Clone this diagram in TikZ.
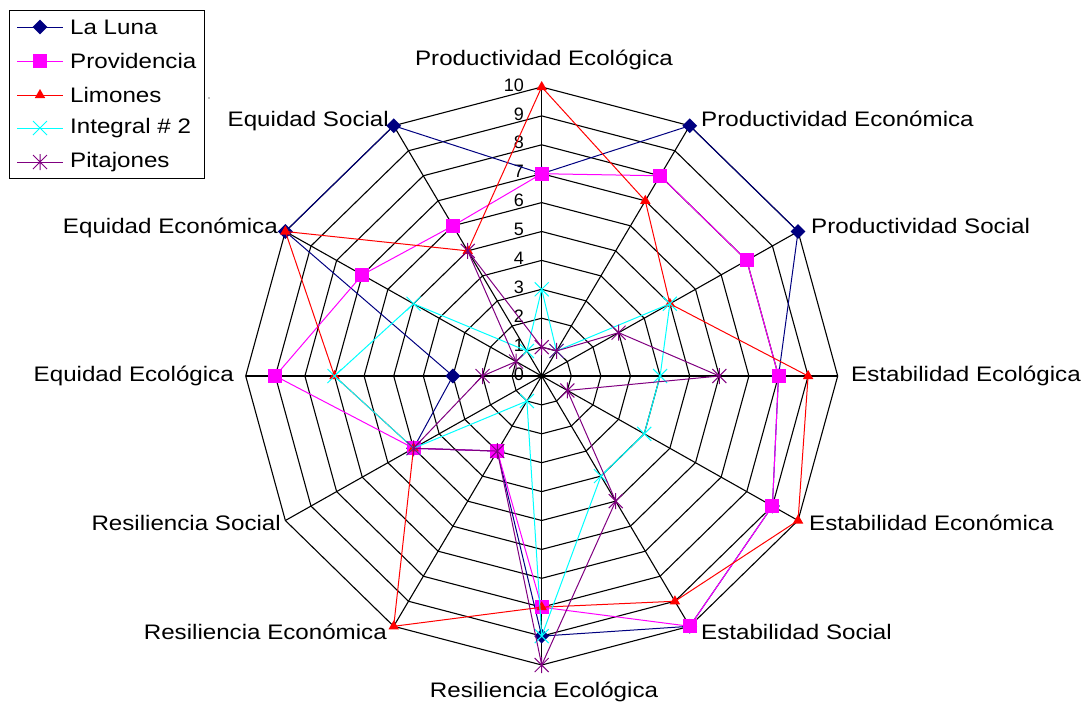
\documentclass[tikz,border=0pt]{standalone}
\usepackage{fontspec}
\setmainfont{Liberation Sans}
\newfontfamily\labfont[FakeStretch=1.15]{Liberation Sans}
\usetikzlibrary{shapes.geometric}
\definecolor{lnavy}{RGB}{0,0,128}
\definecolor{lmag}{RGB}{255,0,255}
\definecolor{lred}{RGB}{255,0,0}
\definecolor{lcyan}{RGB}{0,255,255}
\definecolor{lpurp}{RGB}{128,0,128}
\tikzset{
  gridln/.style={black, line width=1.1pt},
  serln/.style={line width=1pt, line join=round},
  lab/.style={font=\labfont\fontsize{21}{25}\selectfont, inner sep=0pt, text=black},
  ticklab/.style={font=\fontsize{18}{22}\selectfont, inner sep=0pt, text=black, anchor=east},
  mdiam/.style={diamond, fill=lnavy, minimum width=15pt, minimum height=15pt, inner sep=0pt},
  msq/.style={rectangle, fill=lmag, minimum size=14pt, inner sep=0pt},
  mtri/.style={regular polygon, regular polygon sides=3, fill=lred, minimum size=12pt, inner sep=0pt},
  xmk/.pic={\draw[lcyan, line width=1pt] (-7,-7)--(7,7) (-7,7)--(7,-7);},
  astmk/.pic={\draw[lpurp, line width=1pt] (-7,-7)--(7,7) (-7,7)--(7,-7) (0,-8)--(0,8);}
}
\begin{document}
\begin{tikzpicture}[x=1pt,y=-1pt]
\useasboundingbox (0,0) rectangle (1087,704);
\coordinate (O) at (541.7,376);
% grid rings
\foreach \r in {1,...,10}
  \draw[gridln] (541.7,{376-28.9*\r}) \foreach \k in {1,...,11}{ -- ({541.7+29.6*\r*sin(30*\k)},{376-28.9*\r*cos(30*\k)})} -- cycle;
% spokes
\foreach \k in {0,...,11}{
  \coordinate (S\k) at ({541.7+29.6*10*sin(30*\k)},{376-28.9*10*cos(30*\k)});
  \draw[gridln] (O) -- (S\k);
}
\fill[black] (O) circle (2.5);
% tick labels
\foreach \r in {0,...,10}
  \node[ticklab] (T\r) at (524,{374-28.9*\r}) {\r};
% axis labels
\node[lab, anchor=base] (A0) at (544,65) {Productividad Ecológica};
\node[lab, anchor=base west] (A1) at (701,126) {Productividad Económica};
\node[lab, anchor=base west] (A2) at (811,233) {Productividad Social};
\node[lab, anchor=base west] (A3) at (851,381) {Estabilidad Ecológica};
\node[lab, anchor=base west] (A4) at (809,530) {Estabilidad Económica};
\node[lab, anchor=base west] (A5) at (701,639) {Estabilidad Social};
\node[lab, anchor=base] (A6) at (544,697) {Resiliencia Ecológica};
\node[lab, anchor=base east] (A7) at (387,639) {Resiliencia Económica};
\node[lab, anchor=base east] (A8) at (281,530) {Resiliencia Social};
\node[lab, anchor=base east] (A9) at (234,381) {Equidad Ecológica};
\node[lab, anchor=base east] (A10) at (278,233) {Equidad Económica};
\node[lab, anchor=base east] (A11) at (389,126) {Equidad Social};
% data coordinates
\foreach \v [count=\k from 0] in {7,10,10,8,9,10,9,3,5,3,10,10}
  \coordinate (LL\k) at ({541.7+29.6*\v*sin(30*\k)},{376-28.9*\v*cos(30*\k)});
\foreach \v [count=\k from 0] in {7,8,8,8,9,10,8,3,5,9,7,6}
  \coordinate (PR\k) at ({541.7+29.6*\v*sin(30*\k)},{376-28.9*\v*cos(30*\k)});
\foreach \v [count=\k from 0] in {10,7,5,9,10,9,8,10,5,7,10,5}
  \coordinate (LM\k) at ({541.7+29.6*\v*sin(30*\k)},{376-28.9*\v*cos(30*\k)});
\foreach \v [count=\k from 0] in {3,1,5,4,4,4,9,1,5,7,5,1}
  \coordinate (IN\k) at ({541.7+29.6*\v*sin(30*\k)},{376-28.9*\v*cos(30*\k)});
\foreach \v [count=\k from 0] in {1,1,3,6,1,5,10,3,5,2,1,5}
  \coordinate (PI\k) at ({541.7+29.6*\v*sin(30*\k)},{376-28.9*\v*cos(30*\k)});
% La Luna
\draw[serln, lnavy] (LL0) \foreach \k in {1,...,11}{ -- (LL\k)} -- cycle;
\foreach \k in {0,...,11} \node[mdiam] (LLm\k) at (LL\k) {};
% Providencia
\draw[serln, lmag] (PR0) \foreach \k in {1,...,11}{ -- (PR\k)} -- cycle;
\foreach \k in {0,...,11} \node[msq] (PRm\k) at (PR\k) {};
% Limones
\draw[serln, lred] (LM0) \foreach \k in {1,...,11}{ -- (LM\k)} -- cycle;
\foreach \k in {0,...,11} \node[mtri] (LMm\k) at (LM\k) {};
% Integral # 2
\draw[serln, lcyan] (IN0) \foreach \k in {1,...,11}{ -- (IN\k)} -- cycle;
\foreach \k in {0,...,11} \pic at (IN\k) {xmk};
% Pitajones
\draw[serln, lpurp] (PI0) \foreach \k in {1,...,11}{ -- (PI\k)} -- cycle;
\foreach \k in {0,...,11} \pic at (PI\k) {astmk};
% legend
\draw[black, line width=1pt] (9.5,10) rectangle (204,178);
\coordinate (G1a) at (17,27); \coordinate (G1b) at (63,27); \coordinate (G1m) at (40,27);
\coordinate (G2a) at (17,61); \coordinate (G2b) at (63,61); \coordinate (G2m) at (40,61);
\coordinate (G3a) at (17,95); \coordinate (G3b) at (63,95); \coordinate (G3m) at (40,95);
\coordinate (G4a) at (17,128); \coordinate (G4b) at (63,128); \coordinate (G4m) at (40,128);
\coordinate (G5a) at (17,162); \coordinate (G5b) at (63,162); \coordinate (G5m) at (40,162);
\draw[serln, lnavy] (G1a) -- (G1b); \node[mdiam] (K1) at (G1m) {};
\draw[serln, lmag] (G2a) -- (G2b); \node[msq] (K2) at (G2m) {};
\draw[serln, lred] (G3a) -- (G3b); \node[mtri] (K3) at (G3m) {};
\draw[serln, lcyan] (G4a) -- (G4b); \pic at (G4m) {xmk};
\draw[serln, lpurp] (G5a) -- (G5b); \pic at (G5m) {astmk};
\node[lab, anchor=west] (L1) at (70,27) {La Luna};
\node[lab, anchor=west] (L2) at (70,61) {Providencia};
\node[lab, anchor=west] (L3) at (70,95) {Limones};
\node[lab, anchor=west] (L4) at (70,128) {Integral \# 2};
\node[lab, anchor=west] (L5) at (70,162) {Pitajones};
\fill[gray] (209,98) circle (0.9);
\end{tikzpicture}
\end{document}
